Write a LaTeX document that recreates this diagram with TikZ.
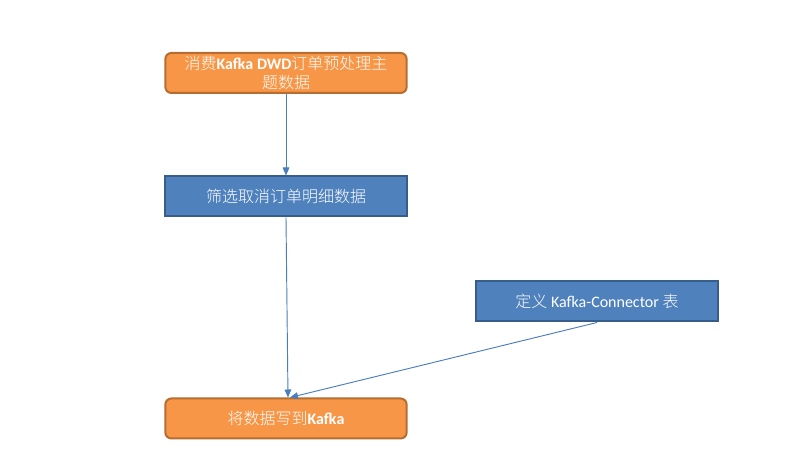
\documentclass[tikz,border=0pt]{standalone}
\usepackage{fontspec}
\setmainfont{Carlito}
\newfontfamily\cjk{Noto Sans CJK SC Light}
\usetikzlibrary{positioning,arrows.meta}
\definecolor{orfill}{HTML}{F79646}
\definecolor{ordraw}{HTML}{B66D31}
\definecolor{blfill}{HTML}{4F81BD}
\definecolor{bldraw}{HTML}{385D8A}
\definecolor{lnblue}{HTML}{4A7EBB}
\tikzset{orange node/.style={rectangle,rounded corners=4.5pt,draw=ordraw,fill=orfill,line width=1.5pt,
    minimum width=181pt,minimum height=30pt,inner sep=1pt,text=white,align=center,
    font=\fontsize{12}{14.5}\selectfont},
  blue node/.style={rectangle,draw=bldraw,fill=blfill,line width=1.5pt,
    minimum width=181pt,minimum height=30pt,inner sep=1pt,text=white,align=center,
    font=\fontsize{12}{14.5}\selectfont},
  flow/.style={draw=lnblue,line width=0.7pt,-{Triangle[length=6pt,width=5pt]}},
}
\begin{document}
\begin{tikzpicture}[x=0.75pt,y=-0.75pt]
		\useasboundingbox (0,0) rectangle (797,473);
		\node[orange node] (consume) at (286,73){{\cjk 消费}\textbf{Kafka DWD}{\cjk 订单预处理主}\\{\cjk 题数据}};
		\node[blue node] (filter) at (286,196.5){\cjk 筛选取消订单明细数据};
		\node[blue node] (define) at (597,301.5){{\cjk 定义} Kafka-Connector {\cjk 表}};
		\node[orange node] (write) at (286,418.5){{\cjk 将数据写到}\textbf{Kafka}};
		
		\path[flow] (consume) -- (filter);
		\path[flow] (filter.south) -- ([xshift=1.5pt]write.north);
		\path[flow] (define.south) -- ([xshift=3pt]write.north);
	\end{tikzpicture}
\end{document}
